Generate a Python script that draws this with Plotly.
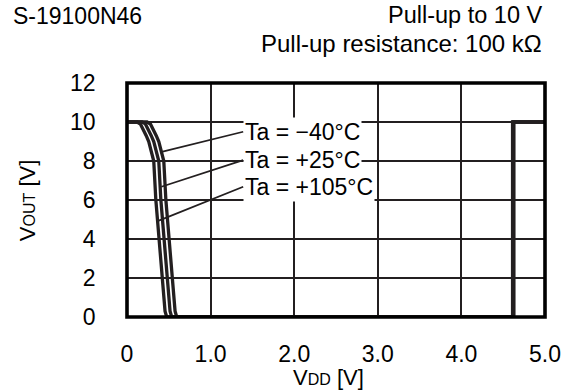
import numpy as np
import plotly.graph_objects as go

# ---- data ----
vdd_105 = [0.0, 0.12, 0.16, 0.20, 0.23, 0.26, 0.32, 0.345, 0.385, 0.42, 0.44, 0.455, 0.475, 4.612, 4.612, 5.0]
vout_105 = [10, 10, 9.9, 9.6, 9.3, 9.0, 8.0, 6.0, 4.0, 2.0, 1.0, 0.3, 0.0, 0.0, 10, 10]
vdd_25 = [0.0, 0.18, 0.22, 0.26, 0.29, 0.32, 0.38, 0.405, 0.445, 0.48, 0.50, 0.515, 0.535, 4.62, 4.62, 5.0]
vout_25 = [10, 10, 9.9, 9.6, 9.3, 9.0, 8.0, 6.0, 4.0, 2.0, 1.0, 0.3, 0.0, 0.0, 10, 10]
vdd_m40 = [0.0, 0.24, 0.28, 0.32, 0.35, 0.38, 0.44, 0.465, 0.505, 0.54, 0.56, 0.575, 0.595, 4.628, 4.628, 5.0]
vout_m40 = [10, 10, 9.9, 9.6, 9.3, 9.0, 8.0, 6.0, 4.0, 2.0, 1.0, 0.3, 0.0, 0.0, 10, 10]

labels = ["Ta = \u221240\u00b0C", "Ta = +25\u00b0C", "Ta = +105\u00b0C"]
label_y = [9.5, 8.05, 6.68]       # label text heights (V)
pointer_y = [8.48, 6.68, 4.94]    # where leader lines touch the curves (V)

x_tickvals = [0, 1, 2, 3, 4, 5]
x_ticktext = ["0", "1.0", "2.0", "3.0", "4.0", "5.0"]
y_tickvals = [0, 2, 4, 6, 8, 10, 12]

INK = "#231f20"
FONT = "Arial, Liberation Sans, sans-serif"
CLEAR = "rgba(0,0,0,0)"

fig = go.Figure()
curves = [(vdd_m40, vout_m40), (vdd_25, vout_25), (vdd_105, vout_105)]
for xs, ys in curves:
    fig.add_trace(go.Scatter(x=xs, y=ys, mode="lines",
                             line=dict(color=INK, width=3.3), showlegend=False,
                             hoverinfo="skip", cliponaxis=False))

for (xs, ys), txt, ly, py in zip(curves, labels, label_y, pointer_y):
    xd = np.array(xs[1:13])
    yd = np.array(ys[1:13])
    px = float(np.interp(py, yd[::-1], xd[::-1])) + 0.015
    fig.add_annotation(x=px, y=py, xref="x", yref="y",
                       ax=1.39, ay=ly, axref="x", ayref="y",
                       text=txt, showarrow=True, arrowhead=0,
                       arrowwidth=1.8, arrowcolor=INK, standoff=0,
                       xanchor="left", yanchor="middle",
                       bgcolor="white", borderpad=1,
                       font=dict(family=FONT, size=23, color="black"))

# plot area in page pixels: x 127..554, y 83..317
def px2paper_x(px):
    return (px - 127) / 427.0

def py2paper_y(py):
    return (317 - py) / 234.0

def title(text, px, py, xanchor, size=23, angle=0):
    fig.add_annotation(x=px2paper_x(px), y=py2paper_y(py), xref="paper", yref="paper",
                       text=text, showarrow=False, xanchor=xanchor, yanchor="middle",
                       textangle=angle, font=dict(family=FONT, size=size, color="black"))

title("S-19100N46", 9, 16, "left", 23)
title("Pull-up to 10 V", 553, 15, "right", 23.5)
title("Pull-up resistance: 100 k\u03a9", 553, 43.5, "right", 24)
title("V<span style='font-size:16px'>DD</span> [V]", 333, 377, "center", 22)
title("V<span style='font-size:16px'>OUT</span> [V]", 25, 201, "center", 22, -90)

# frame centred on the data edges
fig.add_shape(type="rect", xref="paper", yref="paper", x0=0, x1=1, y0=0, y1=1,
              line=dict(color="black", width=3.6), layer="above")

fig.update_layout(
    width=573, height=390,
    margin=dict(l=127, r=19, t=83, b=73),
    paper_bgcolor="white", plot_bgcolor="white",
    font=dict(family=FONT, size=23, color="black"),
    xaxis=dict(range=[0, 5], tickvals=x_tickvals, ticktext=x_ticktext,
               showgrid=True, gridcolor=INK, gridwidth=1.6, zeroline=False,
               showline=True, linecolor=CLEAR, linewidth=3.5,
               ticks="", ticklabelstandoff=14),
    yaxis=dict(range=[0, 12], tickvals=y_tickvals,
               showgrid=True, gridcolor=INK, gridwidth=1.6, zeroline=False,
               showline=True, linecolor=CLEAR, linewidth=3.5,
               ticks="", ticklabelstandoff=23),
)

# remove the browser's default 8px page margin so the figure sits at the window origin
fig.write_html("out.html", config={"displayModeBar": False},
               post_script="document.body.style.margin='0';")
